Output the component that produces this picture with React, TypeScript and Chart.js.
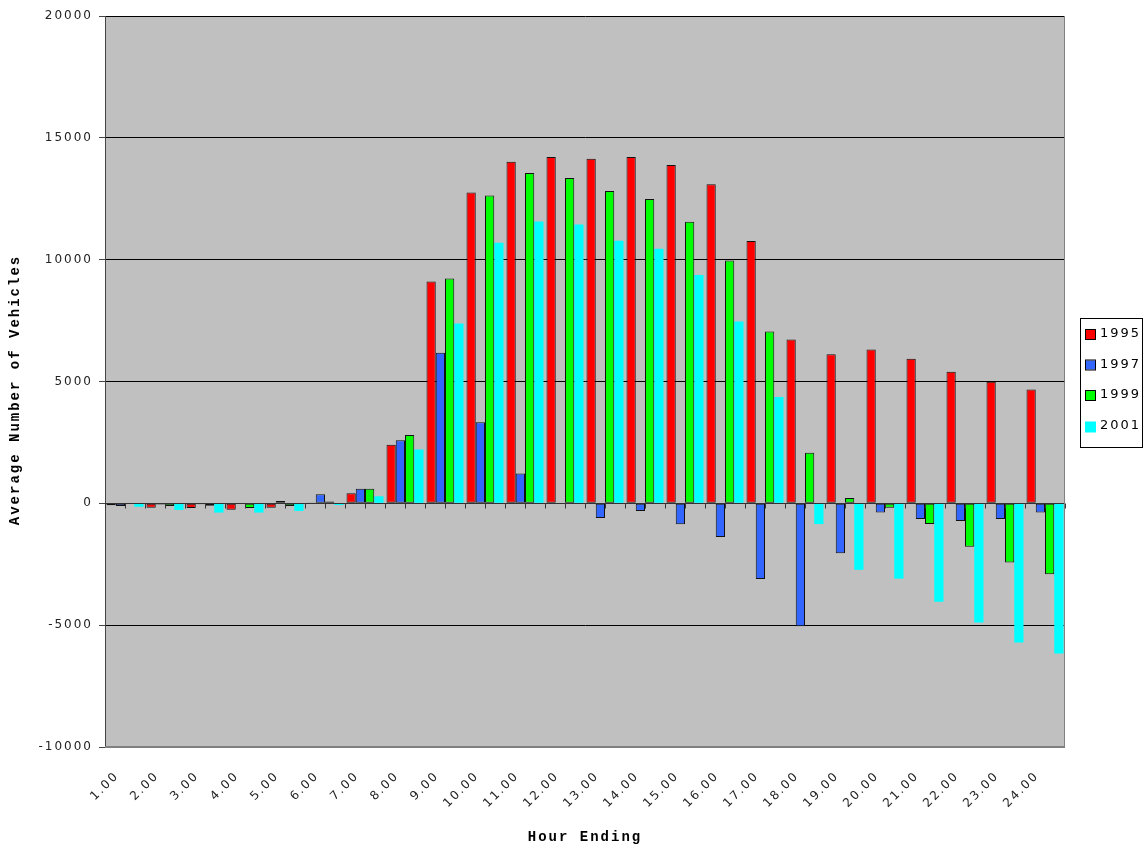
import React, { useEffect, useRef } from "react";
import { Chart, registerables } from "chart.js";

Chart.register(...registerables);

// Hourly change in average vehicle counts by survey year
const hours = [
  "1.00", "2.00", "3.00", "4.00", "5.00", "6.00", "7.00", "8.00",
  "9.00", "10.00", "11.00", "12.00", "13.00", "14.00", "15.00", "16.00",
  "17.00", "18.00", "19.00", "20.00", "21.00", "22.00", "23.00", "24.00",
];

const values1995 = [
  -80, -180, -190, -260, -180, 10, 410, 2400, 9100, 12760, 14020, 14210,
  14140, 14210, 13880, 13090, 10770, 6720, 6120, 6310, 5930, 5400, 4990, 4670,
];
const values1997 = [
  -110, -50, -40, -30, 100, 370, 600, 2590, 6180, 3330, 1220, 0,
  -600, -310, -860, -1380, -3110, -5040, -2050, -380, -640, -720, -640, -380,
];
const values1999 = [
  -30, -110, -100, -190, -110, 80, 600, 2800, 9230, 12630, 13560, 13350,
  12820, 12490, 11560, 9970, 7050, 2080, 220, -180, -850, -1780, -2430, -2910,
];
const values2001 = [
  -140, -270, -380, -380, -310, -70, 290, 2210, 7380, 10690, 11570, 11440,
  10780, 10450, 9370, 7460, 4360, -850, -2730, -3090, -4040, -4890, -5710, -6160,
];

const seriesNames = ["1995", "1997", "1999", "2001"];
const seriesColors = ["#FF0000", "#3366FF", "#00FF00", "#00FFFF"];
const seriesBorders = [1, 1, 1, 0];

const yMin = -10000;
const yMax = 20000;
const yStep = 5000;

const xTitle = "Hour Ending";
const yTitle = "Average Number of Vehicles";

const TEXT_SPACING = "2px";
const tickFont = { family: "'DejaVu Sans', sans-serif", size: 12 };
const titleFont = { family: "'Liberation Mono', monospace", size: 14, weight: "bold" as const };

// Wide-tracked lettering for every text drawn on the canvas
const spacingPlugin = {
  id: "spacing",
  beforeUpdate(chart: any) {
    chart.ctx.letterSpacing = TEXT_SPACING;
  },
  beforeDraw(chart: any) {
    chart.ctx.letterSpacing = TEXT_SPACING;
  },
};

// Grey plot background
const plotBackground = {
  id: "plotBackground",
  beforeDraw(chart: any) {
    const { ctx, chartArea: a } = chart;
    ctx.save();
    ctx.fillStyle = "#C0C0C0";
    ctx.fillRect(a.left, a.top, a.right - a.left, a.bottom - a.top);
    ctx.restore();
  },
};

// Category axis drawn across the zero line, plus plot frame
const zeroAxis = {
  id: "zeroAxis",
  afterDatasetsDraw(chart: any) {
    const { ctx, chartArea: a, scales } = chart;
    const y0 = Math.round(scales.y.getPixelForValue(0)) + 0.5;
    const n = hours.length;
    const step = (a.right - a.left) / n;
    ctx.save();
    ctx.strokeStyle = "#333";
    ctx.lineWidth = 1;
    ctx.beginPath();
    ctx.moveTo(a.left, y0);
    ctx.lineTo(a.right, y0);
    for (let i = 0; i <= n * 2; i++) {
      const x = Math.round(a.left + (i * step) / 2) + 0.5;
      ctx.moveTo(x, y0);
      ctx.lineTo(x, y0 + 5);
    }
    ctx.stroke();
    ctx.strokeStyle = "#808080";
    ctx.beginPath();
    ctx.moveTo(Math.round(a.right) - 0.5, a.top);
    ctx.lineTo(Math.round(a.right) - 0.5, a.bottom);
    ctx.stroke();
    ctx.lineWidth = 2;
    ctx.beginPath();
    ctx.moveTo(a.left, Math.round(a.bottom));
    ctx.lineTo(a.right, Math.round(a.bottom));
    ctx.stroke();
    ctx.restore();
  },
};

// Vertical value-axis title
const yTitlePlugin = {
  id: "yTitle",
  afterDraw(chart: any) {
    const { ctx } = chart;
    ctx.save();
    ctx.letterSpacing = TEXT_SPACING;
    ctx.translate(15, 391);
    ctx.rotate(-Math.PI / 2);
    ctx.font = "bold 14px 'Liberation Mono', monospace";
    ctx.fillStyle = "#000";
    ctx.textAlign = "center";
    ctx.textBaseline = "middle";
    ctx.fillText(yTitle, 1, 0);
    ctx.restore();
  },
};

// Boxed legend on the right
const boxLegend = {
  id: "boxLegend",
  afterDraw(chart: any) {
    const { ctx } = chart;
    const left = 1080;
    const top = 318;
    const width = 62;
    const height = 129;
    ctx.save();
    ctx.letterSpacing = TEXT_SPACING;
    ctx.fillStyle = "#FFFFFF";
    ctx.fillRect(left, top, width, height);
    ctx.strokeStyle = "#000";
    ctx.lineWidth = 1;
    ctx.strokeRect(left + 0.5, top + 0.5, width, height);
    ctx.font = "13px 'DejaVu Sans', sans-serif";
    ctx.textBaseline = "middle";
    ctx.textAlign = "left";
    seriesNames.forEach((name, i) => {
      const cy = top + 17 + i * 30.5;
      ctx.fillStyle = seriesColors[i];
      if (seriesBorders[i]) {
        ctx.fillRect(left + 6, cy - 5, 9, 9);
        ctx.strokeStyle = "#000";
        ctx.strokeRect(left + 5.5, cy - 5.5, 10, 10);
      } else {
        ctx.fillRect(left + 5, cy - 5, 11, 11);
      }
      ctx.fillStyle = "#000";
      ctx.fillText(name, left + 20, cy - 1);
    });
    ctx.restore();
  },
};

export default function App() {
  const canvasRef = useRef<HTMLCanvasElement | null>(null);

  useEffect(() => {
    document.body.style.margin = "0";
    const canvas = canvasRef.current;
    if (!canvas) return;
    const seriesValues = [values1995, values1997, values1999, values2001];

    const chart = new Chart(canvas, {
      type: "bar",
      data: {
        labels: hours,
        datasets: seriesNames.map((name, i) => ({
          label: name,
          data: seriesValues[i],
          backgroundColor: seriesColors[i],
          borderColor: "#111",
          borderWidth: seriesBorders[i],
          borderSkipped: false,
          categoryPercentage: 0.925,
          barPercentage: 1,
        })),
      },
      options: {
        responsive: false,
        animation: false,
        devicePixelRatio: 1,
        layout: { padding: { left: 0, right: 79, top: 16, bottom: 0 } },
        plugins: {
          legend: { display: false },
          tooltip: { enabled: false },
        },
        scales: {
          x: {
            grid: { display: false },
            border: { display: false },
            ticks: {
              font: tickFont,
              color: "#222",
              autoSkip: false,
              maxRotation: 45,
              minRotation: 45,
              padding: 14,
              labelOffset: -8,
            },
            title: {
              display: true,
              text: xTitle,
              font: titleFont,
              color: "#000",
              padding: { top: 0, bottom: 4 },
            },
            afterFit: (scale: any) => {
              scale.height = 103;
            },
          },
          y: {
            min: yMin,
            max: yMax,
            ticks: {
              stepSize: yStep,
              font: tickFont,
              color: "#222",
              padding: 6,
              callback: (v: any) => String(v),
            },
            grid: {
              color: (c: any) => (c.tick && c.tick.value === yMin ? "#808080" : "#000"),
              lineWidth: 1,
              tickLength: 6,
              tickColor: "#444",
            },
            border: { color: "#444", width: 1 },
            afterFit: (scale: any) => {
              scale.width = 105;
            },
          },
        },
      },
      plugins: [spacingPlugin, plotBackground, zeroAxis, yTitlePlugin, boxLegend],
    });

    return () => chart.destroy();
  }, []);

  return (
    <div style={{ width: 1144, height: 850, background: "#fff" }}>
      <canvas ref={canvasRef} width={1144} height={850} />
    </div>
  );
}
